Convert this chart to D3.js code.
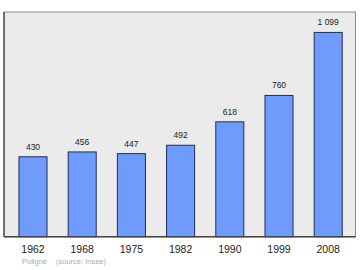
<!DOCTYPE html>
<html>
<head>
<meta charset="utf-8">
<script src="https://cdn.jsdelivr.net/npm/d3@7"></script>
<style>
  html, body { margin: 0; padding: 0; background: #fff; }
  svg { display: block; }
</style>
</head>
<body>
<svg id="chart" width="360" height="270"></svg>
<script>
const years = ["1962", "1968", "1975", "1982", "1990", "1999", "2008"];
const population = [430, 456, 447, 492, 618, 760, 1099];
const valueLabels = ["430", "456", "447", "492", "618", "760", "1 099"];
const townName = "Poligné";
const sourceText = "(source: Insee)";

const svg = d3.select("#chart");
const frame = { left: 4, top: 12, right: 355.5, bottom: 236.7 };

svg.append("rect")
  .attr("x", frame.left).attr("y", frame.top)
  .attr("width", frame.right - frame.left)
  .attr("height", frame.bottom - frame.top)
  .attr("fill", "#ebebeb")
  .attr("stroke", "#8a8a8a")
  .attr("stroke-width", 1);

const x = d3.scaleBand()
  .domain(years)
  .range([8.4, 352.8])
  .paddingInner(0.43)
  .paddingOuter(0.215);

const y = d3.scaleLinear()
  .domain([0, 1099 * 1.1])
  .range([frame.bottom, frame.top]);

svg.append("g").selectAll("rect")
  .data(population)
  .join("rect")
  .attr("x", (d, i) => x(years[i]))
  .attr("y", d => y(d))
  .attr("width", x.bandwidth())
  .attr("height", d => y(0) - y(d))
  .attr("fill", "#6f9bfc")
  .attr("stroke", "#1f2d5c")
  .attr("stroke-width", 1);

svg.append("g").selectAll("text")
  .data(population)
  .join("text")
  .attr("x", (d, i) => x(years[i]) + x.bandwidth() / 2)
  .attr("y", d => y(d) - 7)
  .attr("text-anchor", "middle")
  .attr("font-family", "Liberation Sans, Arial, sans-serif")
  .attr("font-size", 8.5)
  .attr("fill", "#222")
  .text((d, i) => valueLabels[i]);

// frame edges (darker left and bottom)
svg.append("line")
  .attr("x1", frame.left).attr("x2", frame.left)
  .attr("y1", frame.top).attr("y2", frame.bottom)
  .attr("stroke", "#555").attr("stroke-width", 1.5);
svg.append("line")
  .attr("x1", frame.left).attr("x2", frame.right)
  .attr("y1", frame.bottom).attr("y2", frame.bottom)
  .attr("stroke", "#444").attr("stroke-width", 1.5);

const xAxis = d3.axisBottom(x).tickSize(0).tickPadding(0);
const gx = svg.append("g")
  .attr("transform", `translate(0,${frame.bottom})`)
  .call(xAxis);
gx.select(".domain").remove();
gx.selectAll("text")
  .attr("dy", null)
  .attr("y", 16.5)
  .attr("font-family", "Liberation Sans, Arial, sans-serif")
  .attr("font-size", 10.5)
  .attr("fill", "#222");

svg.append("text")
  .attr("x", 22).attr("y", 263.5)
  .attr("font-family", "Liberation Sans, Arial, sans-serif")
  .attr("font-size", 7.5)
  .attr("fill", "#aaa")
  .text(townName);
svg.append("text")
  .attr("x", 56).attr("y", 263.5)
  .attr("font-family", "Liberation Sans, Arial, sans-serif")
  .attr("font-size", 7.5)
  .attr("fill", "#aaa")
  .text(sourceText);
</script>
</body>
</html>
